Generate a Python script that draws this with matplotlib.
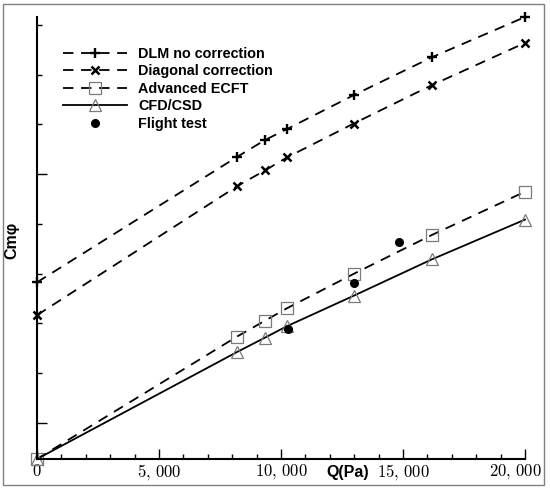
import matplotlib
matplotlib.use("Agg")
import matplotlib.pyplot as plt
import matplotlib.transforms as mtransforms
from matplotlib.patches import Rectangle
from matplotlib.ticker import FixedLocator, MultipleLocator
import numpy as np

# dynamic pressure Q (Pa) at the computed points
q_model = [0, 8200, 9350, 10250, 12980, 16180, 20000]
# Cm_phi in arbitrary units (axis has no values)
dlm_no_corr = [3.55, 6.07, 6.41, 6.63, 7.31, 8.07, 8.88]
diag_corr = [2.89, 5.48, 5.80, 6.06, 6.74, 7.51, 8.36]
adv_ecft = [0.0, 2.46, 2.78, 3.03, 3.72, 4.50, 5.37]
cfd_csd = [0.0, 2.15, 2.44, 2.67, 3.28, 4.01, 4.81]

q_flight = [10300, 12990, 14840]
flight_test = [2.62, 3.53, 4.36]

x_ticks = [0, 5000, 10000, 15000, 20000]
x_tick_labels = [r"$0$", r"$5,\,000$", r"$10,\,000$", r"$15,\,000$", r"$20,\,000$"]

plt.rcParams["mathtext.fontset"] = "cm"
plt.rcParams["lines.scale_dashes"] = False

W, H = 550, 491
fig = plt.figure(figsize=(W / 100, H / 100), dpi=100)
ax = fig.add_axes([37 / W, 1 - 459 / H, (525 - 37) / W, (459 - 17) / H])

dash = (0, (7.5, 5.5))
sans = ["Liberation Sans", "DejaVu Sans"]
lw = 1.3

ax.plot(q_model, dlm_no_corr, color="black", ls=dash, lw=lw, marker="+",
        ms=7, mew=1.7, label="DLM no correction", clip_on=False)
ax.plot(q_model, diag_corr, color="black", ls=dash, lw=lw, marker="x",
        ms=5.5, mew=1.8, label="Diagonal correction", clip_on=False)
ax.plot(q_model, adv_ecft, color="black", ls=dash, lw=lw, marker="s",
        ms=8, mew=0.9, mec="#7a7a7a", mfc="none", label="Advanced ECFT",
        clip_on=False)
ax.plot(q_model, cfd_csd, color="black", ls="-", lw=lw, marker="^",
        ms=9, mew=0.9, mec="#7a7a7a", mfc="none", label="CFD/CSD",
        clip_on=False)
ax.plot(q_flight, flight_test, color="black", ls="none", marker="o",
        ms=5.5, label="Flight test", clip_on=False)

ax.set_xlim(0, 20000)
ax.set_ylim(0, 8.88)

for side in ("top", "right"):
    ax.spines[side].set_visible(False)
for side in ("left", "bottom"):
    ax.spines[side].set_linewidth(1.5)

ax.xaxis.set_major_locator(FixedLocator(x_ticks))
ax.xaxis.set_minor_locator(MultipleLocator(1000))
ax.set_xticklabels(x_tick_labels)
ax.yaxis.set_major_locator(FixedLocator([0.723, 5.723]))
ax.yaxis.set_minor_locator(FixedLocator(np.arange(0.723, 8.8, 1.0)))
ax.set_yticklabels([])

ax.tick_params(which="both", direction="in", width=1.0, colors="black")
ax.tick_params(which="major", length=7)
ax.tick_params(which="minor", length=3.5)
ax.tick_params(axis="x", which="major", labelsize=12, pad=2)

# keep the last label inside the frame
last = ax.get_xticklabels()[-1]
last.set_transform(last.get_transform()
                   + mtransforms.ScaledTranslation(-0.1, 0, fig.dpi_scale_trans))

fig.text(348 / W, 1 - 472 / H, "Q(Pa)", ha="center", va="center",
         fontsize=11.5, fontweight="bold", family=sans)
fig.text(12 / W, 1 - 240 / H, "Cmφ", ha="center", va="center", rotation=90,
         fontsize=11.5, fontweight="bold", family=sans)

ax.legend(loc="upper left", bbox_to_anchor=(63 / W, 1 - 47 / H),
          bbox_transform=fig.transFigure, frameon=False, borderpad=0,
          borderaxespad=0, handlelength=4.4, handletextpad=0.8,
          labelspacing=0.24, prop={"family": sans, "weight": "bold",
                                   "size": 10.4})

fig.patches.append(Rectangle((3 / W, 1 - 485 / H), (544 - 3) / W,
                             (485 - 4) / H, transform=fig.transFigure,
                             fill=False, edgecolor="#808080", lw=1.0))

fig.savefig("out.png", dpi=100)
